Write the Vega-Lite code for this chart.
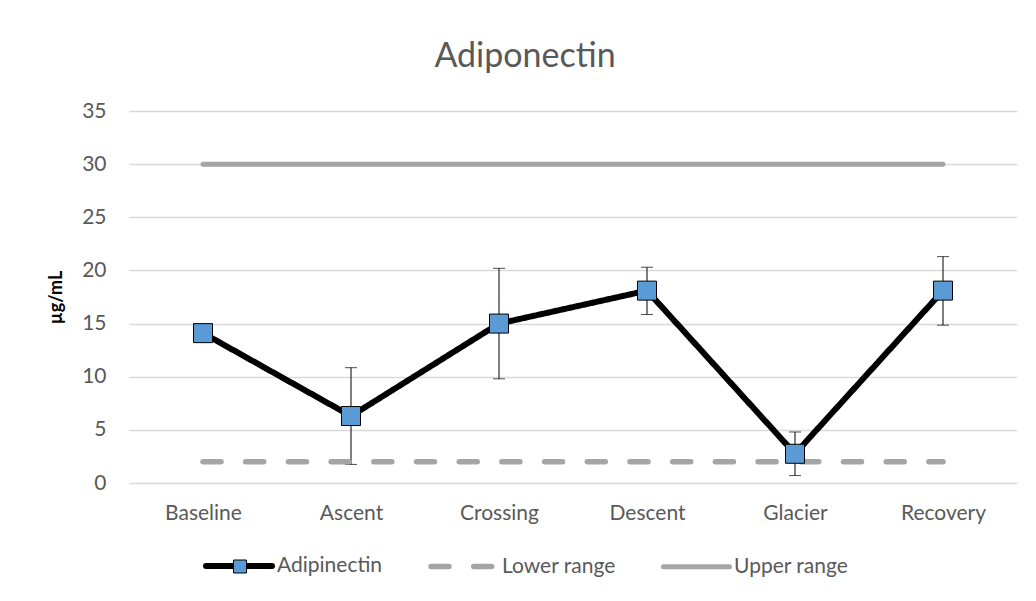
{
  "$schema": "https://vega.github.io/schema/vega-lite/v6.json",
  "width": 888,
  "height": 372,
  "autosize": {"type": "none"},
  "padding": {"left": 129, "top": 111, "right": 19, "bottom": 118},
  "background": "white",
  "config": {"font": "Lato", "view": {"stroke": null}},
  "title": {"text": "Adiponectin", "fontSize": 34, "fontWeight": "normal", "color": "#595959", "font": "Lato", "anchor": "middle", "frame": "group", "dx": -48, "offset": 26},
  "datasets": {
    "lines": [
      {"stage": "Baseline", "series": "Adipinectin", "value": 14.1},
      {"stage": "Ascent", "series": "Adipinectin", "value": 6.3},
      {"stage": "Crossing", "series": "Adipinectin", "value": 15.0},
      {"stage": "Descent", "series": "Adipinectin", "value": 18.1},
      {"stage": "Glacier", "series": "Adipinectin", "value": 2.75},
      {"stage": "Recovery", "series": "Adipinectin", "value": 18.1},
      {"stage": "Baseline", "series": "Lower range", "value": 2},
      {"stage": "Ascent", "series": "Lower range", "value": 2},
      {"stage": "Crossing", "series": "Lower range", "value": 2},
      {"stage": "Descent", "series": "Lower range", "value": 2},
      {"stage": "Glacier", "series": "Lower range", "value": 2},
      {"stage": "Recovery", "series": "Lower range", "value": 2},
      {"stage": "Baseline", "series": "Upper range", "value": 30},
      {"stage": "Ascent", "series": "Upper range", "value": 30},
      {"stage": "Crossing", "series": "Upper range", "value": 30},
      {"stage": "Descent", "series": "Upper range", "value": 30},
      {"stage": "Glacier", "series": "Upper range", "value": 30},
      {"stage": "Recovery", "series": "Upper range", "value": 30}
    ],
    "main": [
      {"stage": "Baseline", "marker": "Adipinectin", "value": 14.1, "low": 14.1, "high": 14.1},
      {"stage": "Ascent", "marker": "Adipinectin", "value": 6.3, "low": 1.75, "high": 10.85},
      {"stage": "Crossing", "marker": "Adipinectin", "value": 15.0, "low": 9.8, "high": 20.2},
      {"stage": "Descent", "marker": "Adipinectin", "value": 18.1, "low": 15.85, "high": 20.3},
      {"stage": "Glacier", "marker": "Adipinectin", "value": 2.75, "low": 0.7, "high": 4.8},
      {"stage": "Recovery", "marker": "Adipinectin", "value": 18.1, "low": 14.85, "high": 21.3}
    ]
  },
  "encoding": {
    "x": {
      "field": "stage", "type": "nominal",
      "scale": {"type": "point", "padding": 0.5, "domain": ["Baseline", "Ascent", "Crossing", "Descent", "Glacier", "Recovery"]},
      "axis": {"title": null, "labelAngle": 0, "labelFontSize": 21, "labelColor": "#595959", "labelPadding": 19, "ticks": false, "domain": false, "grid": false}
    }
  },
  "layer": [
    {
      "data": {"name": "main"},
      "mark": {"type": "rule", "color": "black", "strokeWidth": 1},
      "encoding": {
        "y": {"field": "low", "type": "quantitative", "scale": {"domain": [0, 35]},
          "axis": {"title": "µg/mL", "titleFontSize": 18, "titleFontWeight": "bold", "titleColor": "#000000", "titlePadding": 16,
            "values": [0, 5, 10, 15, 20, 25, 30, 35], "labelFontSize": 21, "labelColor": "#595959", "labelPadding": 23,
            "ticks": false, "domain": false, "grid": true, "gridColor": "#D9D9D9", "gridWidth": 1.3}},
        "y2": {"field": "high"}
      }
    },
    {
      "data": {"name": "main"},
      "mark": {"type": "tick", "color": "black", "size": 12, "thickness": 1, "orient": "horizontal"},
      "encoding": {"y": {"field": "low", "type": "quantitative"}}
    },
    {
      "data": {"name": "main"},
      "mark": {"type": "tick", "color": "black", "size": 12, "thickness": 1, "orient": "horizontal"},
      "encoding": {"y": {"field": "high", "type": "quantitative"}}
    },
    {
      "data": {"name": "lines"},
      "mark": {"type": "line", "strokeCap": "round"},
      "encoding": {
        "y": {"field": "value", "type": "quantitative"},
        "color": {"field": "series", "type": "nominal",
          "scale": {"domain": ["Adipinectin", "Lower range", "Upper range"], "range": ["#000000", "#A5A5A5", "#A5A5A5"]},
          "legend": {"orient": "none", "legendX": 74, "legendY": 419, "direction": "horizontal", "title": null,
            "symbolType": "stroke", "symbolSize": 4356, "labelFontSize": 21, "labelColor": "#595959", "labelOffset": 2,
            "columnPadding": 37, "padding": 0,
            "encode": {"symbols": {"update": {"strokeCap": {"value": "round"}}}}}},
        "strokeDash": {"field": "series", "type": "nominal",
          "scale": {"domain": ["Adipinectin", "Lower range", "Upper range"], "range": [[1, 0], [18, 24.7], [1, 0]]}},
        "strokeWidth": {"field": "series", "type": "nominal",
          "scale": {"domain": ["Adipinectin", "Lower range", "Upper range"], "range": [6, 5, 5]}}
      }
    },
    {
      "data": {"name": "main"},
      "mark": {"type": "point", "shape": "square", "filled": true, "size": 361, "stroke": "black", "strokeWidth": 1, "opacity": 1},
      "encoding": {
        "y": {"field": "value", "type": "quantitative"},
        "fill": {"field": "marker", "type": "nominal",
          "scale": {"domain": ["Adipinectin"], "range": ["#5B9BD5"]},
          "legend": {"orient": "none", "legendX": 100.5, "legendY": 445, "title": null, "symbolType": "square", "symbolSize": 169,
            "symbolStrokeColor": "black", "symbolStrokeWidth": 1, "symbolOpacity": 1, "labelFontSize": 21, "labelExpr": "''", "labelOpacity": 0, "padding": 0}}
      }
    }
  ]
}
